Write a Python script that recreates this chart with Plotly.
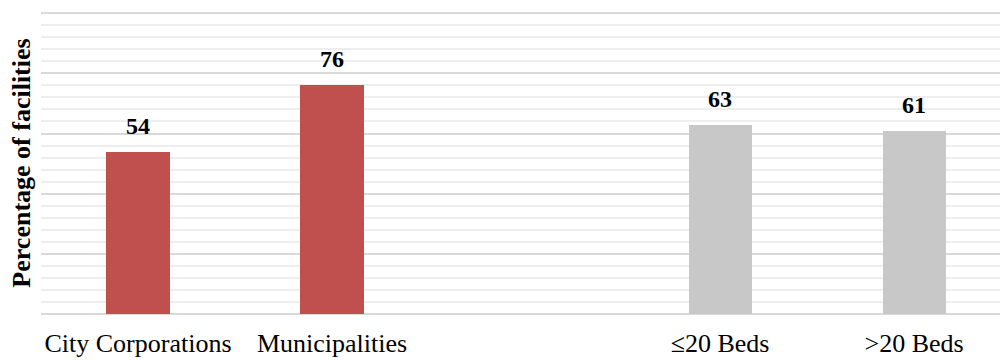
import plotly.graph_objects as go

categories = ["City Corporations", "Municipalities", "≤20 Beds", ">20 Beds"]
positions = [0, 1, 3, 4]
values = [54, 76, 63, 61]
colors = ["#C0504D", "#C0504D", "#C8C8C8", "#C8C8C8"]

SERIF = "Liberation Serif"

fig = go.Figure()
fig.add_trace(go.Bar(
    x=positions, y=values, marker=dict(color=colors, line=dict(width=0)),
    width=0.325, showlegend=False, hoverinfo="skip",
))

for p, v in zip(positions, values):
    fig.add_annotation(x=p, y=v, text=f"<b>{v}</b>", showarrow=False,
                       yanchor="bottom", yshift=11,
                       font=dict(family=SERIF, size=24, color="#000000"))

fig.update_layout(
    width=1000, height=360,
    margin=dict(l=41, r=0, t=12, b=46),
    paper_bgcolor="white", plot_bgcolor="white",
    font=dict(family=SERIF, color="#000000"),
    bargap=0,
)
fig.update_xaxes(
    range=[-0.5, 4.443], tickvals=positions, ticktext=categories,
    tickfont=dict(family=SERIF, size=26, color="#000000"),
    ticks="outside", ticklen=6, tickcolor="rgba(0,0,0,0)",
    showgrid=False, zeroline=False, showline=False, automargin=False,
)
fig.update_yaxes(
    range=[0, 100.4], dtick=20, showticklabels=False,
    showgrid=True, gridcolor="#d9d9d9", gridwidth=2,
    zeroline=True, zerolinecolor="#d9d9d9", zerolinewidth=2,
    minor=dict(dtick=4, showgrid=True, gridcolor="#eeeeee", gridwidth=1.5),
    automargin=False,
    title=dict(text="<b>Percentage of facilities</b>", standoff=1,
               font=dict(family=SERIF, size=26, color="#000000")),
)

fig.write_html("out.html")
